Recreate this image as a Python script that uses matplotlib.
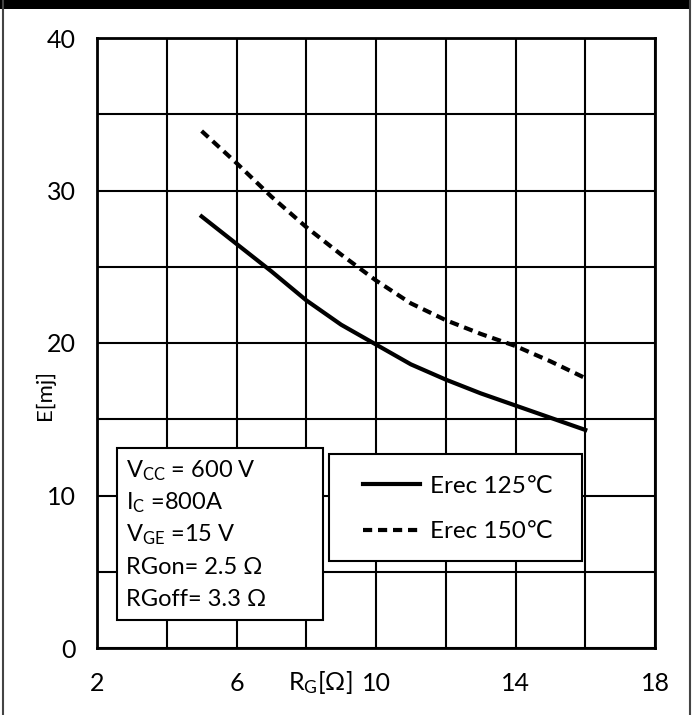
import matplotlib.pyplot as plt
from matplotlib.patches import Rectangle
from matplotlib.lines import Line2D

plt.rcParams['font.family'] = ['Lato', 'DejaVu Sans']
plt.rcParams['mathtext.fontset'] = 'custom'
plt.rcParams['mathtext.rm'] = 'Lato'
plt.rcParams['mathtext.it'] = 'Lato'

# valeurs
rg = [5, 6, 7, 8, 9, 10, 11, 12, 13, 14, 15, 16]
erec_125 = [28.3, 26.5, 24.7, 22.8, 21.2, 19.9, 18.6, 17.6, 16.7, 15.9, 15.1, 14.3]
erec_150 = [33.9, 31.8, 29.6, 27.6, 25.8, 24.1, 22.6, 21.5, 20.6, 19.8, 18.8, 17.7]

x_labels = [2, 6, 10, 14, 18]
y_labels = [0, 10, 20, 30, 40]

conditions = [r"V$_{\mathregular{CC}}$ = 600 V",
              r"I$_{\mathregular{C}}$ =800A",
              r"V$_{\mathregular{GE}}$ =15 V",
              "RGon= 2.5 Ω",
              "RGoff= 3.3 Ω"]

fig = plt.figure(figsize=(6.99, 7.15), dpi=100)
ax = fig.add_axes([97/699, 1 - 648/715, 558/699, 610/715])

ax.plot(rg, erec_125, color='black', lw=3, label='Erec 125℃', solid_joinstyle='round')
ax.plot(rg, erec_150, color='black', lw=3, ls=(0, (2.2, 1.4)), label='Erec 150℃')

ax.set_xlim(2, 18)
ax.set_ylim(0, 40)
ax.set_xticks(x_labels)
ax.set_xticks([4, 8, 12, 16], minor=True)
ax.set_yticks(y_labels)
ax.set_yticks([5, 15, 25, 35], minor=True)
ax.grid(True, which='both', color='black', lw=1.5)
ax.tick_params(which='both', length=0)
ax.tick_params(axis='x', pad=17, labelsize=18)
ax.tick_params(axis='y', pad=15, labelsize=18)
for s in ax.spines.values():
    s.set_linewidth(2)

ax.text(8.4, -0.035, r"R$_{\mathregular{G}}$[Ω]", transform=ax.get_xaxis_transform(),
        ha='center', va='top', fontsize=18)
fig.text(45/699, 1 - 395/715, "E[mj]", rotation=90, ha='center', va='center', fontsize=16)

# boite des conditions
ax.add_patch(Rectangle(((117 - 97)/558, (648 - 620)/610), 206/558, 172/610,
                       transform=ax.transAxes, facecolor='white', edgecolor='black',
                       lw=1.5, zorder=5))
for i, t in enumerate(conditions):
    ax.text((126 - 97)/558, (648 - 471 - 32*i)/610, t, transform=ax.transAxes,
            ha='left', va='center', fontsize=17, zorder=6,
            family=['Lato', 'DejaVu Sans'])

# cadre de la legende
ax.add_patch(Rectangle(((329 - 97)/558, (648 - 561)/610), 253/558, 107/610,
                       transform=ax.transAxes, facecolor='white', edgecolor='black',
                       lw=1.5, zorder=5))
leg = ax.legend(loc='center left', bbox_to_anchor=((363 - 97)/558, (648 - 509)/610),
                frameon=False, fontsize=17.5, handlelength=2.35, borderpad=0,
                labelspacing=1.0, handletextpad=0.4, borderaxespad=0)
leg.set_zorder(6)

# cadre de la figure
fig.add_artist(Rectangle((0, 1 - 9/715), 690/699, 9/715, transform=fig.transFigure,
                         facecolor='black', edgecolor='none'))
fig.add_artist(Line2D([3/699, 3/699], [0, 1], transform=fig.transFigure, color='#444444', lw=1.5))
fig.add_artist(Line2D([690/699, 690/699], [0, 1], transform=fig.transFigure, color='#444444', lw=1.5))

fig.savefig('out.png', dpi=100)
